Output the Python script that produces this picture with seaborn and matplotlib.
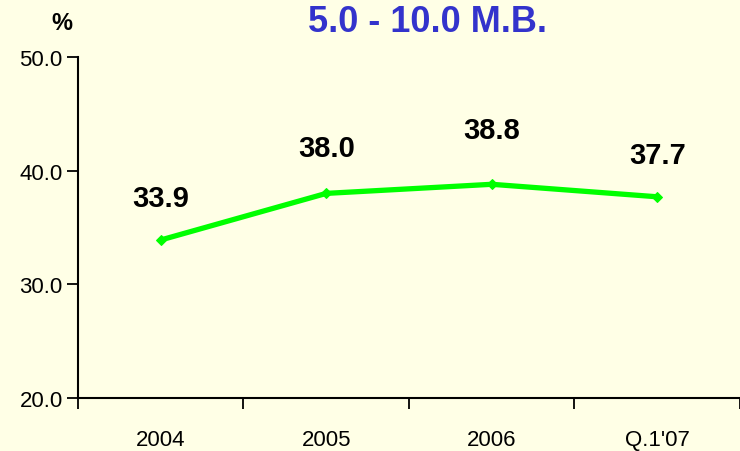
import numpy as np
import pandas as pd
import matplotlib
matplotlib.use("Agg")
import matplotlib.pyplot as plt
import seaborn as sns

periods = ["2004", "2005", "2006", "Q.1'07"]
share = [33.9, 38.0, 38.8, 37.7]
y_ticks = [20.0, 30.0, 40.0, 50.0]

bg = "#FFFFE6"
line_color = "#00FF00"

sns.set_style("white")
plt.rcParams['font.family'] = ['Liberation Sans', 'DejaVu Sans']
plt.rcParams['text.color'] = "black"
plt.rcParams['xtick.color'] = "black"
plt.rcParams['ytick.color'] = "black"

df = pd.DataFrame({"pos": np.arange(len(periods)), "share": share})

fig = plt.figure(figsize=(7.4, 4.52), dpi=100, facecolor=bg)
ax = fig.add_axes([0.1054, 0.1173, 0.8946, 0.7544])
ax.set_facecolor(bg)

sns.lineplot(data=df, x="pos", y="share", ax=ax, color=line_color,
             linewidth=3.8, marker="D", markersize=5,
             markeredgecolor=line_color, clip_on=False)

offsets = [30, 33, 39, 30]
for x, v, off in zip(df["pos"], share, offsets):
    ax.annotate(f"{v:.1f}", (x, v), xytext=(0, off), textcoords="offset points",
                ha="center", va="center", fontsize=21, fontweight="bold",
                family=['Liberation Sans Narrow', 'Liberation Sans'],
                color="black")

ax.set_xlim(-0.5, len(periods) - 0.5)
ax.set_ylim(20, 50)
ax.set_yticks(y_ticks)
ax.set_yticklabels([f"{t:.1f}" for t in y_ticks], fontsize=16)
ax.set_xticks(np.arange(len(periods) + 1) - 0.5)
ax.set_xticklabels([])
ax.set_xticks(np.arange(len(periods)), minor=True)
ax.set_xticklabels(periods, minor=True, fontsize=16)
ax.tick_params(axis="x", which="major", bottom=True, direction="out",
               length=8, width=1.3, color="black")
ax.tick_params(axis="x", which="minor", bottom=True, length=0, pad=22)
ax.tick_params(axis="y", left=True, direction="out", length=8, width=1.3,
               color="black", pad=3)
ax.set_xlabel("")
ax.set_ylabel("")

for side in ["top", "right"]:
    ax.spines[side].set_visible(False)
for side in ["left", "bottom"]:
    ax.spines[side].set_color("black")
    ax.spines[side].set_linewidth(1.5)

fig.text(62 / 740, 1 - 24 / 452, "%", ha="center", va="center",
         fontsize=17, fontweight="bold")
fig.text(427 / 740, 1 - 22 / 452, "5.0 - 10.0 M.B.", ha="center", va="center",
         fontsize=26, fontweight="bold", color="#3333CC")

fig.savefig("out.png", dpi=100, facecolor=bg)
